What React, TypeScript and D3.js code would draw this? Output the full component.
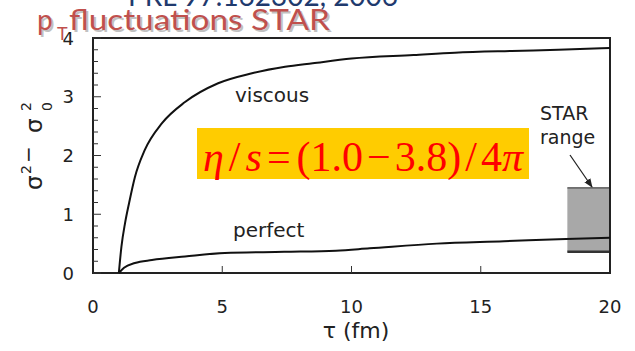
import React from "react";
import * as d3 from "d3";

const W = 635;
const H = 351;

const xTicks = [0, 5, 10, 15, 20];
const yTicks = [0, 1, 2, 3, 4];

const viscousTau = [1, 1.1, 1.24, 1.4, 1.62, 2.0, 2.67, 3.56, 4.84, 6.15, 7.43, 8.5, 10, 12.4, 14, 16.2, 18, 20];
const viscousVal = [0, 0.45, 0.85, 1.2, 1.63, 2.09, 2.55, 2.91, 3.23, 3.4, 3.51, 3.57, 3.65, 3.71, 3.75, 3.78, 3.8, 3.83];

const perfectTau = [1, 1.2, 1.62, 2.28, 3.56, 5.1, 7.4, 9.4, 10.7, 13.3, 15.9, 18.3, 20];
const perfectVal = [0, 0.09, 0.17, 0.22, 0.28, 0.34, 0.36, 0.38, 0.42, 0.5, 0.54, 0.58, 0.6];

const starRange = { tauStart: 18.35, low: 0.36, high: 1.45 };

// formula tokens: [text, italic, gap before]
const formulaTokens: [string, boolean, number][] = [
  ["η", true, 0],
  ["/", false, 5],
  ["s", true, 5],
  ["=", false, 5],
  ["(", false, 6],
  ["1.0", false, 0],
  ["−", false, 4],
  ["3.8", false, 4],
  [")", false, 0],
  ["/", false, 4],
  ["4", false, 4],
  ["π", true, 0],
];

export default function App() {
  const x = d3.scaleLinear().domain([0, 20]).range([93, 610]);
  const y = d3.scaleLinear().domain([0, 4]).range([273, 38]);

  const line = d3
    .line<[number, number]>()
    .x((d) => x(d[0]))
    .y((d) => y(d[1]))
    .curve(d3.curveMonotoneX);

  const viscous = viscousTau.map((t, i) => [t, viscousVal[i]] as [number, number]);
  const perfect = perfectTau.map((t, i) => [t, perfectVal[i]] as [number, number]);

  const minorY = d3.range(0, 4.001, 0.2);
  const sans = "DejaVu Sans, Verdana, sans-serif";
  const title = "Lato, 'Open Sans', sans-serif";
  const serif = "'Liberation Serif', 'Times New Roman', serif";

  return (
    <svg
      width={W}
      height={H}
      style={{ position: "absolute", left: 0, top: 0, background: "#fff" }}
    >
      <defs>
        <marker id="arr" viewBox="0 0 10 10" refX="9" refY="5" markerWidth="7" markerHeight="7" orient="auto">
          <path d="M0,1 L10,5 L0,9 z" fill="#222" />
        </marker>
      </defs>

      {/* STAR range box */}
      <rect
        x={x(starRange.tauStart)}
        y={y(starRange.high)}
        width={x(20) - x(starRange.tauStart)}
        height={y(starRange.low) - y(starRange.high)}
        fill="#a8a8a8"
      />
      <line x1={x(starRange.tauStart)} x2={x(20)} y1={y(starRange.high)} y2={y(starRange.high)} stroke="#444" strokeWidth={1.2} />
      <line x1={x(starRange.tauStart)} x2={x(20)} y1={y(starRange.low)} y2={y(starRange.low)} stroke="#333" strokeWidth={2.5} />

      {/* frame */}
      <rect x={x(0)} y={y(4)} width={x(20) - x(0)} height={y(0) - y(4)} fill="none" stroke="#222" strokeWidth={2} />

      {/* y ticks */}
      {minorY.map((v, i) => {
        const major = Math.abs(v - Math.round(v)) < 1e-6;
        return (
          <line key={"yt" + i} x1={x(0)} x2={x(0) + (major ? 8 : 5)} y1={y(v)} y2={y(v)} stroke="#333" strokeWidth={1} />
        );
      })}
      {/* x ticks */}
      {xTicks.slice(1, -1).map((t) => (
        <line key={"xt" + t} x1={x(t)} x2={x(t)} y1={y(0)} y2={y(0) - 7} stroke="#333" strokeWidth={1} />
      ))}

      {/* curves */}
      <path d={line(viscous) || ""} fill="none" stroke="#111" strokeWidth={2} />
      <path d={line(perfect) || ""} fill="none" stroke="#111" strokeWidth={2} />

      {/* tick labels */}
      {yTicks.map((t) => (
        <text key={"yl" + t} x={74} y={y(t) + 6.5} textAnchor="end" fontFamily={sans} fontSize={18} fill="#222">
          {t}
        </text>
      ))}
      {xTicks.map((t) => (
        <text key={"xl" + t} x={x(t)} y={313} textAnchor="middle" fontFamily={sans} fontSize={18} fill="#222">
          {t}
        </text>
      ))}
      <text x={356} y={338} textAnchor="middle" fontFamily={sans} fontSize={22} fill="#222">
        τ (fm)
      </text>

      {/* y axis label */}
      <g transform="translate(42,143) rotate(-90)" fontFamily={sans} fill="#222">
        <text x={-47} y={0} fontSize={23}>σ</text>
        <text x={-31} y={-11} fontSize={14}>2</text>
        <text x={-20} y={-7} fontSize={20}>−</text>
        <text x={10} y={0} fontSize={23}>σ</text>
        <text x={32} y={10} fontSize={14}>0</text>
        <text x={32} y={-11} fontSize={14}>2</text>
      </g>

      {/* annotations */}
      <text x={235} y={102} fontFamily={sans} fontSize={20} fill="#222">viscous</text>
      <text x={233} y={237} fontFamily={sans} fontSize={20} fill="#222">perfect</text>
      <text x={540} y={120} fontFamily={sans} fontSize={19} fill="#222">STAR</text>
      <text x={540} y={144} fontFamily={sans} fontSize={19} fill="#222">range</text>
      <line x1={570} y1={155} x2={592} y2={187} stroke="#222" strokeWidth={1.3} markerEnd="url(#arr)" />

      {/* formula */}
      <rect x={197} y={128} width={332} height={51} fill="#ffcc00" />
      <text x={203} y={171} fontFamily={serif} fontSize={42} fill="#ff0000">
        {formulaTokens.map(([s, it, gap], i) => (
          <tspan key={"f" + i} dx={gap} fontStyle={it ? "italic" : "normal"}>
            {s}
          </tspan>
        ))}
      </text>

      {/* top reference (clipped) */}
      <text x={128} y={6} fontFamily={title} fontSize={28} fill="#1f3a6e" textLength={270} lengthAdjust="spacingAndGlyphs">
        PRL 97:162302, 2006
      </text>

      {/* title with shadow */}
      <g fontFamily={title} fontSize={28}>
        <text x={39} y={32} fill="#999" opacity={0.6}>p</text>
        <text x={37} y={30} fill="#c0504d">p</text>
        <text x={57} y={40} fontSize={18} fill="#c0504d">T</text>
        <text x={71} y={32} fill="#999" opacity={0.6} textLength={261} lengthAdjust="spacingAndGlyphs">fluctuations STAR</text>
        <text x={69} y={30} fill="#c0504d" textLength={261} lengthAdjust="spacingAndGlyphs">fluctuations STAR</text>
      </g>
    </svg>
  );
}
